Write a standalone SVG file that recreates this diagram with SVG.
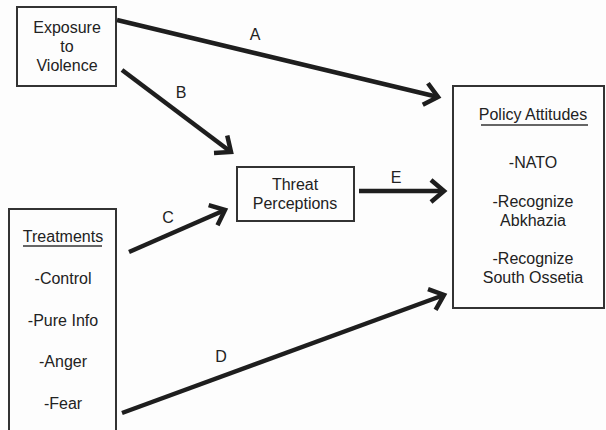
<svg xmlns="http://www.w3.org/2000/svg" width="606" height="430" viewBox="0 0 606 430">
<defs>
<style>
.box{fill:none;stroke:#333;stroke-width:2}
.t{font-family:"Liberation Sans",Arial,sans-serif;font-size:16px;fill:#222;text-anchor:middle}
.e{fill:none;stroke:#1e1e1e;stroke-width:4.5;stroke-linecap:butt}
.u{stroke:#333;stroke-width:1.5}
</style>
<marker id="ah" markerUnits="userSpaceOnUse" viewBox="-20 -14 24 28" markerWidth="24" markerHeight="28" refX="0" refY="0" orient="auto">
<path d="M-13,-11 L0,0 L-13,11" fill="none" stroke="#1e1e1e" stroke-width="4.5" stroke-linejoin="miter" stroke-miterlimit="10"/>
</marker>
</defs>
<rect width="606" height="430" fill="#fdfdfd"/>
<g id="exposure">
<rect class="box" x="17" y="7" width="99" height="79"/>
<text class="t" x="67" y="33">Exposure</text>
<text class="t" x="67" y="52">to</text>
<text class="t" x="67" y="71">Violence</text>
</g>
<g id="threat">
<rect class="box" x="237" y="167" width="117" height="54"/>
<text class="t" x="295" y="190">Threat</text>
<text class="t" x="295" y="209">Perceptions</text>
</g>
<g id="policy">
<rect class="box" x="453" y="86" width="151" height="222"/>
<text class="t" x="533" y="120">Policy Attitudes</text>
<line class="u" x1="481" y1="125" x2="588" y2="125"/>
<text class="t" x="533" y="168">-NATO</text>
<text class="t" x="533" y="207">-Recognize</text>
<text class="t" x="533" y="226">Abkhazia</text>
<text class="t" x="533" y="264">-Recognize</text>
<text class="t" x="533" y="283">South Ossetia</text>
</g>
<g id="treatments">
<rect class="box" x="9" y="209" width="107" height="230"/>
<text class="t" x="63" y="242">Treatments</text>
<line class="u" x1="23" y1="246" x2="102" y2="246"/>
<text class="t" x="63" y="284">-Control</text>
<text class="t" x="63" y="326">-Pure Info</text>
<text class="t" x="63" y="367">-Anger</text>
<text class="t" x="63" y="409">-Fear</text>
</g>
<g id="connectors">
<line class="e" x1="117" y1="20" x2="438" y2="97" marker-end="url(#ah)"/>
<line class="e" x1="122" y1="70" x2="231" y2="152" marker-end="url(#ah)"/>
<line class="e" x1="129" y1="252" x2="225" y2="210" marker-end="url(#ah)"/>
<line class="e" x1="359" y1="191" x2="444" y2="191" marker-end="url(#ah)"/>
<line class="e" x1="122" y1="413" x2="444" y2="295" marker-end="url(#ah)"/>
<text class="t" x="255" y="40">A</text>
<text class="t" x="181" y="98">B</text>
<text class="t" x="168" y="223">C</text>
<text class="t" x="221" y="362">D</text>
<text class="t" x="396" y="183">E</text>
</g>
</svg>
